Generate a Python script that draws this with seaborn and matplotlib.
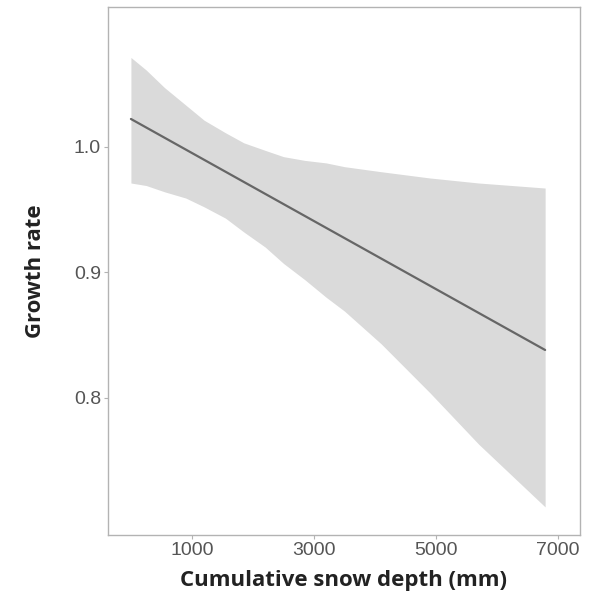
import matplotlib
matplotlib.use("Agg")
import matplotlib.pyplot as plt
import seaborn as sns
import pandas as pd

# values
snow_depth = [0, 250, 550, 900, 1200, 1550, 1850, 2200, 2500, 2850,
              3200, 3500, 4100, 4900, 5700, 6790]
ci_lower = [0.971, 0.969, 0.964, 0.959, 0.952, 0.943, 0.932, 0.920, 0.907, 0.894,
            0.880, 0.869, 0.843, 0.804, 0.763, 0.713]
ci_upper = [1.071, 1.061, 1.047, 1.033, 1.021, 1.011, 1.003, 0.997, 0.992, 0.989,
            0.987, 0.984, 0.980, 0.975, 0.971, 0.967]

# fitted (straight) line: ends
fit_depth = [0, 6790]
fit_growth = [1.022, 0.838]

x_ticks = [1000, 3000, 5000, 7000]
y_ticks = [0.8, 0.9, 1.0]

band = pd.DataFrame({'snow': snow_depth, 'lo': ci_lower, 'hi': ci_upper})
fit = pd.DataFrame({'snow': fit_depth, 'growth': fit_growth})

sns.set_theme(style='white')
plt.rcParams['font.family'] = ['Liberation Sans', 'DejaVu Sans']

fig = plt.figure(figsize=(5.93, 6.02), dpi=100)
ax = fig.add_axes([0.182, 0.111, 0.796, 0.877])

# confidence band + fitted line
ax.fill_between(band['snow'], band['lo'], band['hi'], color='#dadada', linewidth=0, zorder=1)
sns.lineplot(data=fit, x='snow', y='growth', ax=ax, color='#666666', linewidth=1.6, zorder=2)

ax.set_xlim(-377, 7361)
ax.set_ylim(0.6905, 1.111)
ax.set_xticks(x_ticks)
ax.set_yticks(y_ticks)
ax.set_yticklabels([f'{v:.1f}' for v in y_ticks])

for side in ['top', 'right', 'bottom', 'left']:
    ax.spines[side].set_visible(True)
    ax.spines[side].set_color('#b3b3b3')
    ax.spines[side].set_linewidth(1.0)

ax.tick_params(axis='both', which='major', length=3, width=0.8, color='#b3b3b3',
               labelsize=14, labelcolor='#555555', pad=2, bottom=True, left=True)

ax.set_xlabel('Cumulative snow depth (mm)', fontsize=16, fontweight='bold',
              family='Open Sans', color='#222222', labelpad=8)
ax.set_ylabel('Growth rate', fontsize=16, fontweight='bold',
              family='Open Sans', color='#222222', labelpad=20)

fig.savefig('out.png', dpi=100)
plt.close(fig)
